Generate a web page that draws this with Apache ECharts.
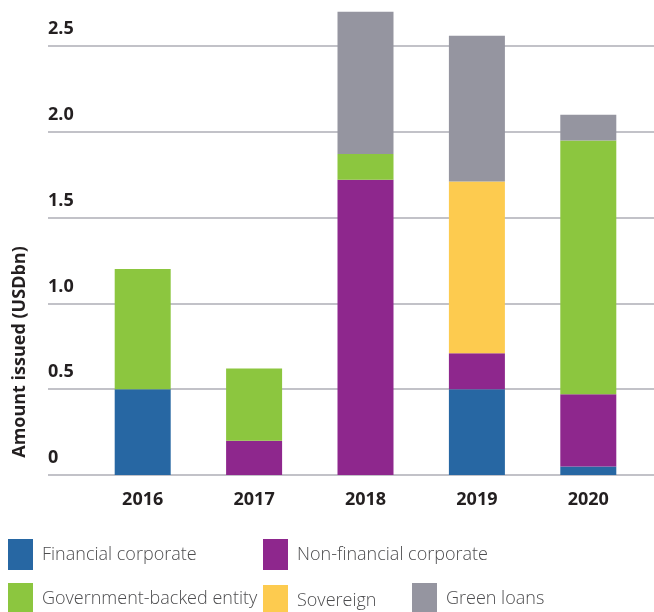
<!DOCTYPE html>
<html>
<head>
<meta charset="utf-8">
<script src="https://cdn.jsdelivr.net/npm/echarts@6/dist/echarts.min.js"></script>
<style>
  html, body { margin: 0; padding: 0; background: #fff; }
  #chart { width: 654px; height: 612px; }
</style>
</head>
<body>
<div id="chart"></div>
<script>
const years = ["2016", "2017", "2018", "2019", "2020"];
const financialCorporate = [0.5, 0, 0, 0.5, 0.05];
const nonFinancialCorporate = [0, 0.2, 1.72, 0.21, 0.42];
const governmentBacked = [0.7, 0.42, 0.15, 0, 1.48];
const sovereign = [0, 0, 0, 1.0, 0];
const greenLoans = [0, 0, 0.83, 0.85, 0.15];
const yTicks = [0, 0.5, 1.0, 1.5, 2.0, 2.5];

const colors = {
  fin: "#2767a3",
  nonFin: "#8e278d",
  gov: "#8cc63f",
  sov: "#fdcb4f",
  green: "#9595a0",
};

const font = "'Open Sans', sans-serif";

const chart = echarts.init(document.getElementById("chart"));

// one legend per item so each sits where the original puts it
function legendAt(name, left, top) {
  return {
    data: [name],
    left: left,
    top: top,
    icon: "rect",
    itemWidth: 25,
    itemHeight: 31,
    padding: 0,
    selectedMode: false,
    textStyle: {
      fontFamily: font,
      fontSize: 18,
      fontWeight: 300,
      color: "#4d4d4f",
      padding: [2, 0, 0, 4],
    },
  };
}

function barSeries(name, data, color) {
  return {
    name: name,
    type: "bar",
    stack: "total",
    xAxisIndex: 1,
    yAxisIndex: 1,
    barWidth: 56,
    clip: false,
    itemStyle: { color: color },
    data: data,
  };
}

const option = {
  animation: false,
  grid: [
    // grid lines run full width
    { left: 48, right: 0, top: 46, height: 429 },
    // bars sit in a narrower band
    { left: 87, right: 10, top: 46, height: 429 },
  ],
  xAxis: [
    { gridIndex: 0, type: "value", show: false },
    {
      gridIndex: 1,
      type: "category",
      data: years,
      axisLine: { show: false },
      axisTick: { show: false },
      axisLabel: {
        margin: 16,
        fontFamily: font,
        fontSize: 18,
        fontWeight: "bold",
        color: "#231f20",
      },
    },
  ],
  yAxis: [
    {
      gridIndex: 0,
      type: "value",
      min: yTicks[0],
      max: yTicks[yTicks.length - 1],
      interval: 0.5,
      axisLine: { show: false },
      axisTick: { show: false },
      splitLine: { lineStyle: { color: "#aeaeb6", width: 1.5 } },
      axisLabel: {
        inside: true,
        margin: 0,
        align: "left",
        verticalAlign: "bottom",
        padding: [0, 0, 8, 0],
        fontFamily: font,
        fontSize: 18,
        fontWeight: "bold",
        color: "#231f20",
        formatter: (v) => (v === 0 ? "0" : v.toFixed(1)),
      },
    },
    { gridIndex: 1, type: "value", min: 0, max: 2.5, interval: 0.5, show: false },
  ],
  legend: [
    legendAt("Financial corporate", 8, 539),
    legendAt("Non-financial corporate", 263, 539),
    legendAt("Government-backed entity", 8, 583),
    legendAt("Sovereign", 263, 585),
    legendAt("Green loans", 412, 583),
  ],
  graphic: [
    {
      type: "text",
      x: 20,
      y: 352,
      rotation: Math.PI / 2,
      style: {
        text: "Amount issued (USDbn)",
        fontFamily: font,
        fontSize: 18,
        fontWeight: "bold",
        fill: "#231f20",
        align: "center",
        verticalAlign: "middle",
      },
    },
  ],
  series: [
    barSeries("Financial corporate", financialCorporate, colors.fin),
    barSeries("Non-financial corporate", nonFinancialCorporate, colors.nonFin),
    barSeries("Government-backed entity", governmentBacked, colors.gov),
    barSeries("Sovereign", sovereign, colors.sov),
    barSeries("Green loans", greenLoans, colors.green),
  ],
};

chart.setOption(option);
</script>
</body>
</html>
